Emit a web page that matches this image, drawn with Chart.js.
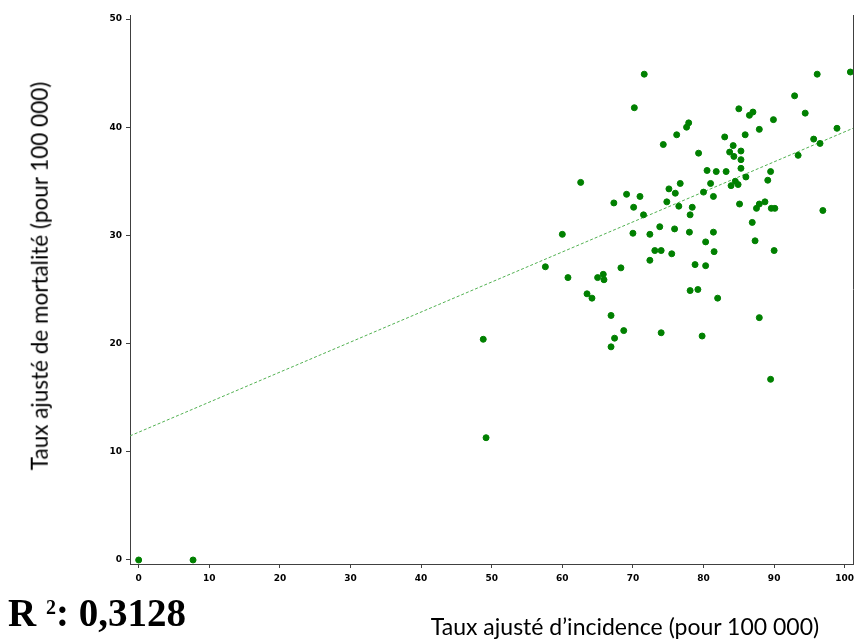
<!DOCTYPE html>
<html lang="fr">
<head>
<meta charset="utf-8">
<title>Incidence et mortalité</title>
<script src="https://cdn.jsdelivr.net/npm/chart.js@4.4.1/dist/chart.umd.min.js"></script>
<style>
  html, body { margin: 0; padding: 0; background: #fff; }
  #wrap { position: relative; width: 858px; height: 643px; overflow: hidden; }
  #chart { position: absolute; left: 0; top: 0; }
  .lbl { position: absolute; white-space: nowrap; color: #000; line-height: 1; }
  #ytitle { font-family: Lato, sans-serif; font-size: 22.5px; left: 40px; top: 276px;
            transform: translate(-50%, -50%) rotate(-90deg); }
  #xtitle { font-family: Lato, sans-serif; font-size: 23px; left: 625px; top: 615px;
            transform: translateX(-50%); }
  #r2 { font-family: "Liberation Serif", serif; font-weight: bold; font-size: 39px; left: 8px; top: 593px; }
  #r2 sup { font-size: 20px; vertical-align: 12px; line-height: 0; }
</style>
</head>
<body>
<div id="wrap">
  <canvas id="chart" width="858" height="643"></canvas>
  <div class="lbl" id="ytitle">Taux ajusté de mortalité (pour 100 000)</div>
  <div class="lbl" id="xtitle">Taux ajusté d’incidence (pour 100 000)</div>
  <div class="lbl" id="r2">R <sup>2</sup>: 0,3128</div>
</div>
<script>
// taux ajusté d'incidence (x) et de mortalité (y), pour 100 000
var incidence = [
  0, 7.7, 48.8, 49.2,
  71.6, 70.2, 62.6, 60.0, 74.3, 76.2, 77.6, 77.9, 79.3, 83.0,
  85.0, 86.5, 87.0, 85.9, 87.9, 89.9, 84.2, 85.3, 83.7, 84.3,
  85.3, 85.3, 80.5, 81.8, 83.2, 86.0, 89.5, 89.1, 84.5, 84.9,
  83.9, 81.0, 80.0, 81.4, 76.7, 75.1, 76.0, 69.1, 71.0, 67.3,
  70.1, 71.5, 74.8, 76.5, 78.4, 78.1, 85.1, 87.5, 87.9, 88.7,
  89.6, 90.1, 96.9, 92.9, 96.1, 100.8, 94.4, 98.9, 95.6, 96.5,
  93.4, 73.8, 70.0, 72.4, 75.9, 78.0, 81.4, 86.9, 87.3, 80.3,
  73.1, 74.0, 75.5, 72.4, 81.5, 90.0, 57.6, 60.8, 68.3, 65.8,
  65.0, 65.9, 78.8, 80.3, 63.5, 64.2, 78.1, 79.2, 82.0, 66.9,
  87.9, 68.7, 67.4, 66.9, 74.0, 79.8, 89.5
];
var mortalite = [
  0, 0, 20.4, 11.3,
  44.9, 41.8, 34.9, 30.1, 38.4, 39.3, 40.0, 40.4, 37.6, 39.1,
  41.7, 41.1, 41.4, 39.3, 39.8, 40.7, 38.3, 37.8, 37.7, 37.3,
  37.0, 36.2, 36.0, 35.9, 35.9, 35.4, 35.9, 35.1, 35.0, 34.7,
  34.6, 34.8, 34.0, 33.6, 34.8, 34.3, 33.9, 33.8, 33.6, 33.0,
  32.6, 31.9, 33.1, 32.7, 32.6, 31.9, 32.9, 32.5, 32.9, 33.1,
  32.5, 32.5, 32.3, 42.9, 44.9, 45.1, 41.3, 39.9, 38.9, 38.5,
  37.4, 30.8, 30.2, 30.1, 30.6, 30.3, 30.3, 31.2, 29.5, 29.4,
  28.6, 28.6, 28.3, 27.7, 28.5, 28.6, 27.1, 26.1, 27.0, 26.4,
  26.1, 25.9, 27.3, 27.2, 24.6, 24.2, 24.9, 25.0, 24.2, 22.6,
  22.4, 21.2, 20.5, 19.7, 21.0, 20.7, 16.7
];

// droite de régression, d'un bord à l'autre du graphique
var droiteX = [-1.23, 101.17];
var droiteY = [11.47, 39.9];

var xTicks = [0, 10, 20, 30, 40, 50, 60, 70, 80, 90, 100];
var yTicks = [0, 10, 20, 30, 40, 50];

var points = incidence.map(function (x, i) { return { x: x, y: mortalite[i] }; });
var droite = droiteX.map(function (x, i) { return { x: x, y: droiteY[i] }; });

var axe = '#404040';
var tickFont = { family: 'DejaVu Sans', size: 9, weight: 'bold' };

// trait vertical a droite de la zone de tracé
var bordDroit = {
  id: 'bordDroit',
  afterDraw: function (chart) {
    var ctx = chart.ctx, a = chart.chartArea;
    ctx.save();
    ctx.strokeStyle = axe;
    ctx.lineWidth = 1;
    ctx.beginPath();
    ctx.moveTo(Math.round(a.right) + 0.5, a.top);
    ctx.lineTo(Math.round(a.right) + 0.5, a.bottom);
    ctx.stroke();
    ctx.restore();
  }
};

new Chart(document.getElementById('chart'), {
  type: 'scatter',
  data: {
    datasets: [{
      data: points,
      backgroundColor: '#008000',
      borderColor: '#008000',
      borderWidth: 1,
      pointRadius: 3,
      order: 1
    }, {
      data: droite,
      showLine: true,
      pointRadius: 0,
      borderColor: '#52b152',
      borderWidth: 1,
      borderDash: [3, 2],
      fill: false,
      order: 2
    }]
  },
  options: {
    responsive: false,
    animation: false,
    devicePixelRatio: 1,
    layout: { padding: { top: 15, right: 2, left: 0, bottom: 0 } },
    plugins: { legend: { display: false }, tooltip: { enabled: false } },
    scales: {
      x: {
        type: 'linear',
        min: -1.23,
        max: 101.17,
        afterBuildTicks: function (s) { s.ticks = xTicks.map(function (v) { return { value: v }; }); },
        afterFit: function (s) { s.height = 79; s.paddingLeft = 0; s.paddingRight = 0; },
        grid: { drawOnChartArea: false, drawTicks: true, tickLength: 4, color: axe },
        border: { display: true, color: axe, width: 1 },
        ticks: { font: tickFont, color: '#000', padding: 5, maxRotation: 0, autoSkip: false }
      },
      y: {
        type: 'linear',
        min: -0.37,
        max: 50.37,
        afterBuildTicks: function (s) { s.ticks = yTicks.map(function (v) { return { value: v }; }); },
        afterFit: function (s) { s.width = 130; s.paddingTop = 0; s.paddingBottom = 0; },
        grid: { drawOnChartArea: false, drawTicks: true, tickLength: 4, color: axe },
        border: { display: true, color: axe, width: 1 },
        ticks: { font: tickFont, color: '#000', padding: 4, autoSkip: false }
      }
    }
  },
  plugins: [bordDroit]
});
</script>
</body>
</html>
